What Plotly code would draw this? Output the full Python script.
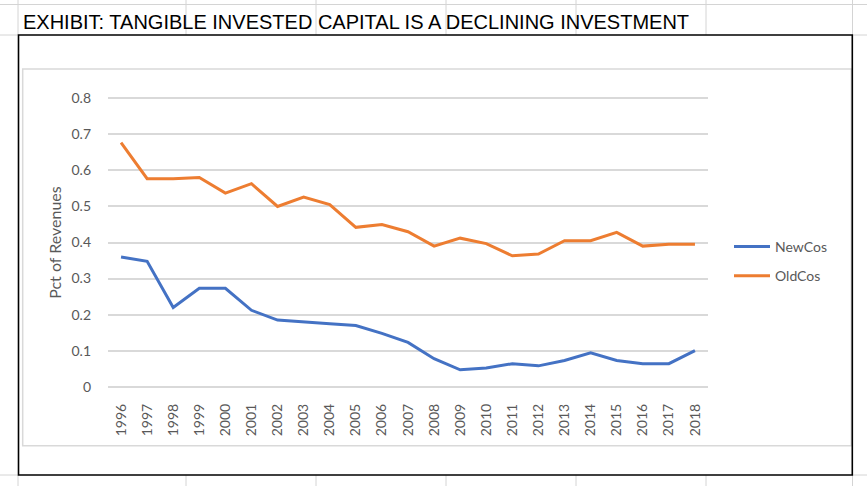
import plotly.graph_objects as go

# ---- data ----
years = [str(y) for y in range(1996, 2019)]
newcos = [0.360, 0.348, 0.220, 0.273, 0.273, 0.212, 0.185, 0.181, 0.175, 0.170,
          0.148, 0.123, 0.078, 0.047, 0.052, 0.064, 0.058, 0.073, 0.094, 0.073,
          0.064, 0.064, 0.100]
oldcos = [0.677, 0.577, 0.577, 0.580, 0.537, 0.563, 0.500, 0.526, 0.505, 0.442,
          0.450, 0.430, 0.390, 0.412, 0.397, 0.363, 0.368, 0.405, 0.405, 0.428,
          0.390, 0.395, 0.395]
y_ticks = [0, 0.1, 0.2, 0.3, 0.4, 0.5, 0.6, 0.7, 0.8]
y_tick_labels = ["0", "0.1", "0.2", "0.3", "0.4", "0.5", "0.6", "0.7", "0.8"]
title_text = "EXHIBIT: TANGIBLE INVESTED CAPITAL IS A DECLINING INVESTMENT"

# ---- geometry ----
W, H = 867, 486
L, R, T, B = 108, 159, 91, 92
PW, PH = W - L - R, H - T - B


def px(x):
    return (x - L) / PW


def py(y):
    return 1 - (y - T) / PH


FONT = "Lato"
GRAY_TXT = "#595959"

fig = go.Figure()
fig.add_trace(go.Scatter(x=years, y=newcos, name="NewCos", mode="lines",
                         line=dict(color="#4472C4", width=3), legendgroup="a"))
fig.add_trace(go.Scatter(x=years, y=oldcos, name="OldCos", mode="lines",
                         line=dict(color="#ED7D31", width=3), legendgroup="b"))

shapes = []
grid_col = "#D4D4D4"
# spreadsheet grid (outside the chart object)
shapes.append(dict(type="line", xref="paper", yref="paper", x0=px(0), x1=px(W),
                   y0=py(4.5), y1=py(4.5), line=dict(color=grid_col, width=1)))
for cx in [18, 186, 316, 446, 576, 706, 852.5]:
    shapes.append(dict(type="line", xref="paper", yref="paper", x0=px(cx), x1=px(cx),
                       y0=py(0), y1=py(35), line=dict(color=grid_col, width=1)))
for cx in [18, 186, 316, 446, 576, 706, 852.5]:
    shapes.append(dict(type="line", xref="paper", yref="paper", x0=px(cx), x1=px(cx),
                       y0=py(475), y1=py(H), line=dict(color=grid_col, width=1)))
for ry in [35, 475]:
    shapes.append(dict(type="line", xref="paper", yref="paper", x0=px(0), x1=px(18),
                       y0=py(ry), y1=py(ry), line=dict(color=grid_col, width=1)))
    shapes.append(dict(type="line", xref="paper", yref="paper", x0=px(852.5), x1=px(W),
                       y0=py(ry), y1=py(ry), line=dict(color=grid_col, width=1)))
# chart area inner border
shapes.append(dict(type="rect", xref="paper", yref="paper", x0=px(22.7), x1=px(851.3),
                   y0=py(445.7), y1=py(69), line=dict(color="#D9D9D9", width=1.5)))
# chart object black border
shapes.append(dict(type="rect", xref="paper", yref="paper", x0=px(18.5), x1=px(852.3),
                   y0=py(475), y1=py(35), line=dict(color="#000000", width=1.6)))

fig.update_layout(
    width=W, height=H,
    margin=dict(l=L, r=R, t=T, b=B, pad=0),
    paper_bgcolor="white", plot_bgcolor="white",
    font=dict(family=FONT, color=GRAY_TXT, size=14),
    shapes=shapes,
    showlegend=True,
    legend=dict(x=px(729), y=py(231), xanchor="left", yanchor="top",
                font=dict(family=FONT, size=14, color=GRAY_TXT),
                tracegroupgap=8, itemwidth=36, bgcolor="rgba(0,0,0,0)"),
    annotations=[dict(text=title_text, xref="paper", yref="paper", x=px(21), y=py(22),
                      xanchor="left", yanchor="middle", showarrow=False,
                      font=dict(family="Liberation Sans", size=20, color="#000000"))],
)
fig.update_xaxes(type="category", range=[-0.5, 22.5], tickangle=-90, showgrid=False,
                 showline=False, zeroline=False, ticks="",
                 tickfont=dict(family=FONT, size=14, color=GRAY_TXT),
                 ticklabelstandoff=6)
fig.update_yaxes(range=[-0.02, 0.82], tickvals=y_ticks, ticktext=y_tick_labels,
                 showgrid=True, gridcolor="#D9D9D9", gridwidth=1.5, zeroline=False,
                 showline=False, ticks="", ticklabelstandoff=16,
                 tickfont=dict(family=FONT, size=14, color=GRAY_TXT),
                 title=dict(text="Pct of Revenues", standoff=5,
                            font=dict(family=FONT, size=16, color=GRAY_TXT)))

fig.write_html("out.html", config={"displayModeBar": False},
               post_script="document.body.style.margin='0px';")
